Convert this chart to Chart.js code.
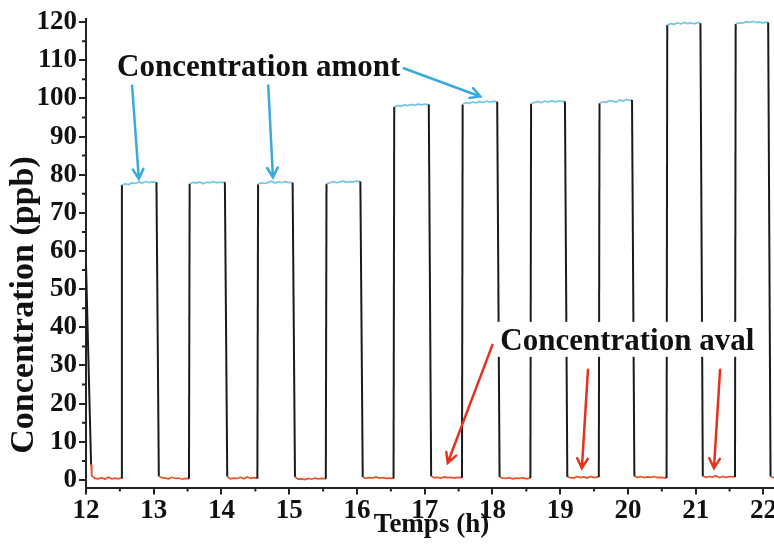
<!DOCTYPE html>
<html>
<head>
<meta charset="utf-8">
<script src="https://cdn.jsdelivr.net/npm/chart.js@4"></script>
<style>
html, body { margin: 0; padding: 0; background: #fff; overflow: hidden; }
#wrap { width: 780px; height: 551px; }
</style>
</head>
<body>
<div id="wrap"><canvas id="myChart"></canvas></div>
<script>
// axis ticks
var xTicks = [12, 13, 14, 15, 16, 17, 18, 19, 20, 21, 22];
var yTicks = [0, 10, 20, 30, 40, 50, 60, 70, 80, 90, 100, 110, 120];
var xMinorTicks = [12.5, 13.5, 14.5, 15.5, 16.5, 17.5, 18.5, 19.5, 20.5, 21.5];
var yMinorTicks = [5, 15, 25, 35, 45, 55, 65, 75, 85, 95, 105, 115];

// measured signal, one line per half cycle
var tempsH = [
  12.000, 12.075, 12.085, 12.13, 12.18, 12.23, 12.28, 12.33, 12.38, 12.43, 12.48, 12.52,
  12.53, 12.58, 12.63, 12.68, 12.73, 12.78, 12.83, 12.88, 12.93, 12.98, 13.04, 13.075,
  13.12, 13.17, 13.22, 13.27, 13.32, 13.37, 13.42, 13.47, 13.52,
  13.53, 13.58, 13.63, 13.68, 13.73, 13.78, 13.83, 13.88, 13.93, 13.98, 14.05, 14.085,
  14.13, 14.18, 14.23, 14.28, 14.33, 14.38, 14.43, 14.48, 14.53,
  14.54, 14.59, 14.64, 14.69, 14.74, 14.79, 14.84, 14.89, 14.94, 14.99, 15.05, 15.085,
  15.13, 15.18, 15.23, 15.28, 15.33, 15.38, 15.43, 15.48, 15.54,
  15.55, 15.60, 15.65, 15.70, 15.75, 15.80, 15.85, 15.90, 15.95, 16.00, 16.05, 16.085,
  16.13, 16.18, 16.23, 16.28, 16.33, 16.38, 16.43, 16.48, 16.54,
  16.55, 16.60, 16.65, 16.70, 16.75, 16.80, 16.85, 16.90, 16.95, 17.00, 17.06, 17.095,
  17.14, 17.19, 17.24, 17.29, 17.34, 17.39, 17.44, 17.49, 17.55,
  17.56, 17.61, 17.66, 17.71, 17.76, 17.81, 17.86, 17.91, 17.96, 18.01, 18.07, 18.105,
  18.15, 18.20, 18.25, 18.30, 18.35, 18.40, 18.45, 18.50, 18.56,
  18.57, 18.62, 18.67, 18.72, 18.77, 18.82, 18.87, 18.92, 18.97, 19.02, 19.07, 19.105,
  19.15, 19.20, 19.25, 19.30, 19.35, 19.40, 19.45, 19.50, 19.57,
  19.58, 19.63, 19.68, 19.73, 19.78, 19.83, 19.88, 19.93, 19.98, 20.03, 20.06, 20.095,
  20.14, 20.19, 20.24, 20.29, 20.34, 20.39, 20.44, 20.49, 20.57,
  20.58, 20.63, 20.68, 20.73, 20.78, 20.83, 20.88, 20.93, 20.98, 21.03, 21.07, 21.105,
  21.15, 21.20, 21.25, 21.30, 21.35, 21.40, 21.45, 21.50, 21.58,
  21.59, 21.64, 21.69, 21.74, 21.79, 21.84, 21.89, 21.94, 21.99, 22.04, 22.07, 22.105,
  22.15, 22.20
];
var concentration = [
  56.5, 4.0, 1.1, 0.4, 0.3, 0.6, 0.2, 0.7, 0.3, 0.5, 0.3, 0.6,
  77.3, 77.6, 77.4, 77.9, 77.7, 78.1, 77.8, 78.2, 77.9, 78.1, 78.0, 1.0,
  0.6, 0.5, 0.3, 0.7, 0.4, 0.5, 0.2, 0.4, 0.3,
  77.6, 78.0, 77.8, 78.1, 77.6, 78.0, 77.9, 78.2, 77.9, 78.0, 78.0, 0.9,
  0.3, 0.5, 0.4, 0.7, 0.3, 0.8, 0.4, 0.6, 0.4,
  77.5, 77.9, 77.7, 78.0, 78.3, 77.8, 78.1, 77.9, 78.2, 78.0, 77.9, 0.8,
  0.2, 0.3, 0.1, 0.4, 0.2, 0.5, 0.3, 0.4, 0.3,
  77.6, 77.9, 78.2, 77.9, 78.1, 78.3, 78.0, 78.2, 78.1, 78.3, 78.2, 0.8,
  0.4, 0.6, 0.5, 0.8, 0.5, 0.6, 0.4, 0.5, 0.4,
  97.8, 98.1, 97.9, 98.3, 98.1, 98.4, 98.2, 98.5, 98.3, 98.5, 98.4, 1.0,
  0.6, 0.7, 0.5, 0.8, 0.6, 0.7, 0.5, 0.7, 0.6,
  98.4, 98.9, 98.7, 99.1, 98.8, 99.2, 98.9, 99.3, 99.0, 99.2, 99.1, 0.8,
  0.5, 0.4, 0.6, 0.3, 0.5, 0.4, 0.6, 0.3, 0.5,
  98.6, 98.9, 99.2, 98.9, 99.3, 99.0, 99.4, 99.1, 99.3, 99.2, 99.2, 0.8,
  0.6, 0.5, 0.9, 0.6, 0.8, 0.5, 0.9, 0.6, 0.8,
  98.7, 99.1, 99.0, 99.4, 99.2, 99.0, 99.6, 99.3, 99.7, 99.5, 99.6, 1.0,
  0.7, 0.9, 0.6, 0.8, 0.7, 0.9, 0.6, 0.7, 0.5,
  119.2, 119.6, 119.4, 119.8, 119.5, 119.9, 119.6, 119.8, 119.5, 119.9, 119.7, 1.0,
  0.7, 0.9, 0.8, 1.1, 0.6, 0.9, 0.7, 0.9, 0.8,
  119.5, 119.8, 119.7, 120.1, 119.9, 120.2, 119.9, 120.0, 119.8, 120.0, 119.9, 0.9,
  0.6, 0.7
];

// labels and arrows (data coordinates)
var notes = [
  { text: 'Concentration amont', x: 12.458, y: 105.9, box: false },
  { text: 'Concentration aval', x: 18.115, y: 34.1, box: true }
];
var arrows = [
  { from: [12.68, 103.4], to: [12.78, 78.9], color: '#3aa9de' },
  { from: [14.69, 103.4], to: [14.76, 79.3], color: '#3aa9de' },
  { from: [16.69, 107.9], to: [17.82, 100.5], color: '#3aa9de' },
  { from: [18.00, 35.4], to: [17.34, 4.5], color: '#e5321f' },
  { from: [19.41, 28.9], to: [19.32, 3.1], color: '#e5321f' },
  { from: [21.36, 28.9], to: [21.27, 3.1], color: '#e5321f' }
];

var serif = "'Liberation Serif', 'Times New Roman', serif";
var points = tempsH.map(function (t, i) { return { x: t, y: concentration[i] }; });

var decor = {
  id: 'decor',
  afterDraw: function (chart) {
    var ctx = chart.ctx, xs = chart.scales.x, ys = chart.scales.y;
    var area = chart.chartArea;
    ctx.save();
    // minor ticks
    ctx.strokeStyle = '#222';
    ctx.lineWidth = 2;
    ctx.beginPath();
    xMinorTicks.forEach(function (v) {
      var px = xs.getPixelForValue(v);
      ctx.moveTo(px, area.bottom);
      ctx.lineTo(px, area.bottom + 4);
    });
    yMinorTicks.forEach(function (v) {
      var py = ys.getPixelForValue(v);
      ctx.moveTo(area.left, py);
      ctx.lineTo(area.left - 4, py);
    });
    ctx.stroke();

    // annotations (the lower one sits on a white box hiding the lines)
    ctx.font = 'bold 31px ' + serif;
    ctx.textAlign = 'left';
    ctx.textBaseline = 'alphabetic';
    notes.forEach(function (n) {
      var px = xs.getPixelForValue(n.x), py = ys.getPixelForValue(n.y);
      if (n.box) {
        var w = ctx.measureText(n.text).width;
        ctx.fillStyle = '#fff';
        ctx.fillRect(px - 4, py - 28, w + 8, 35);
      }
      ctx.fillStyle = '#111';
      ctx.fillText(n.text, px, py);
    });

    // arrows
    arrows.forEach(function (a) {
      var x1 = xs.getPixelForValue(a.from[0]), y1 = ys.getPixelForValue(a.from[1]);
      var x2 = xs.getPixelForValue(a.to[0]), y2 = ys.getPixelForValue(a.to[1]);
      var ang = Math.atan2(y2 - y1, x2 - x1);
      ctx.strokeStyle = a.color;
      ctx.lineWidth = 2.5;
      ctx.lineCap = 'round';
      ctx.beginPath();
      ctx.moveTo(x1, y1);
      ctx.lineTo(x2, y2);
      ctx.moveTo(x2 - 11 * Math.cos(ang - 0.5), y2 - 11 * Math.sin(ang - 0.5));
      ctx.lineTo(x2, y2);
      ctx.lineTo(x2 - 11 * Math.cos(ang + 0.5), y2 - 11 * Math.sin(ang + 0.5));
      ctx.stroke();
    });

    // y axis title
    ctx.fillStyle = '#111';
    ctx.translate(24.5, 305);
    ctx.rotate(-Math.PI / 2);
    ctx.textAlign = 'center';
    ctx.textBaseline = 'middle';
    ctx.font = 'bold 34px ' + serif;
    ctx.fillText('Concentration (ppb)', 0, 0);
    ctx.restore();
  }
};

var ctx = document.getElementById('myChart').getContext('2d');
var chart = new Chart(ctx, {
  type: 'line',
  data: {
    datasets: [{
      data: points,
      borderColor: '#1a1a1a',
      borderWidth: 2,
      pointRadius: 0,
      tension: 0,
      segment: {
        borderColor: function (c) {
          var a = c.p0.parsed.y, b = c.p1.parsed.y;
          if (a > 40 && b > 40) return '#72c4e4';
          if (a < 40 && b < 40) return '#e9502c';
          return '#1a1a1a';
        },
        borderWidth: function (c) {
          var a = c.p0.parsed.y, b = c.p1.parsed.y;
          return ((a > 40) === (b > 40)) ? 1.7 : 2;
        }
      }
    }]
  },
  options: {
    responsive: true,
    maintainAspectRatio: false,
    animation: false,
    layout: { padding: { top: 19, right: 3, left: 0, bottom: 0 } },
    plugins: { legend: { display: false }, tooltip: { enabled: false } },
    scales: {
      x: {
        type: 'linear',
        min: 12,
        max: 22.2,
        afterBuildTicks: function (s) { s.ticks = xTicks.map(function (v) { return { value: v }; }); },
        afterFit: function (s) { s.height = 63.4; },
        grid: { drawOnChartArea: false, tickLength: 7, color: '#222', lineWidth: 2 },
        border: { color: '#222', width: 2 },
        ticks: { color: '#111', padding: 3, maxRotation: 0, autoSkip: false,
                 font: { family: serif, size: 27, weight: 'bold', lineHeight: 1 } },
        title: { display: true, text: 'Temps (h)', color: '#111',
                 font: { family: serif, size: 27, weight: 'bold', lineHeight: 1 },
                 padding: { top: 0, bottom: 12 } }
      },
      y: {
        min: -2,
        max: 120.8,
        afterBuildTicks: function (s) { s.ticks = yTicks.map(function (v) { return { value: v }; }); },
        afterFit: function (s) { s.width = 86; },
        grid: { drawOnChartArea: false, tickLength: 7, color: '#222', lineWidth: 2 },
        border: { color: '#222', width: 2 },
        ticks: { color: '#111', padding: 2, autoSkip: false,
                 font: { family: serif, size: 27, weight: 'bold', lineHeight: 1 } }
      }
    }
  },
  plugins: [decor]
});
</script>
</body>
</html>
